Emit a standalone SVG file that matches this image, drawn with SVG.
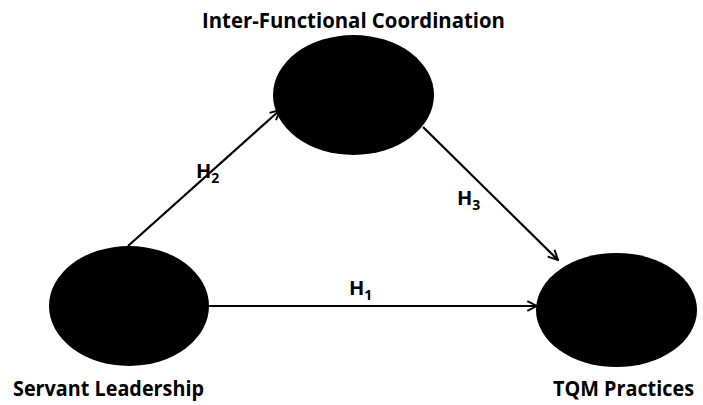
<svg xmlns="http://www.w3.org/2000/svg" width="703" height="405" viewBox="0 0 703 405">
<defs>
<style>
.node{fill:#000}
.lbl{font-family:"Open Sans","Liberation Sans",sans-serif;font-weight:bold;font-size:21px;fill:#000}
.h{font-family:"Open Sans","Liberation Sans",sans-serif;font-weight:bold;font-size:20px;fill:#000}
.sub{font-size:14px}
.edge{stroke:#000;stroke-width:2.2;fill:none;marker-end:url(#arr)}
</style>
<marker id="arr" viewBox="0 0 10 10" refX="9" refY="5" markerWidth="5.5" markerHeight="5.5" orient="auto" markerUnits="strokeWidth">
<path d="M1,1 L9,5 L1,9" fill="none" stroke="#000" stroke-width="1.6"/>
</marker>
</defs>
<rect width="703" height="405" fill="#fff"/>
<g id="connectors">
<line class="edge" x1="128" y1="246" x2="280" y2="110"/>
<line class="edge" x1="423" y1="127" x2="558" y2="260"/>
<line class="edge" x1="209" y1="306" x2="537" y2="306"/>
<text class="h" x="196" y="178">H<tspan class="sub" dy="5">2</tspan></text>
<text class="h" x="457" y="205">H<tspan class="sub" dy="5">3</tspan></text>
<text class="h" x="349" y="295">H<tspan class="sub" dy="5">1</tspan></text>
</g>
<g id="ifc">
<ellipse class="node" cx="353.5" cy="95" rx="80.5" ry="60"/>
<text class="lbl" x="202" y="28" textLength="303" lengthAdjust="spacingAndGlyphs">Inter-Functional Coordination</text>
</g>
<g id="sl">
<ellipse class="node" cx="129" cy="306" rx="80" ry="60"/>
<text class="lbl" x="13" y="396" textLength="191" lengthAdjust="spacingAndGlyphs">Servant Leadership</text>
</g>
<g id="tqm">
<ellipse class="node" cx="616.5" cy="310" rx="80.5" ry="57"/>
<text class="lbl" x="553" y="396" textLength="141" lengthAdjust="spacingAndGlyphs">TQM Practices</text>
</g>
</svg>
